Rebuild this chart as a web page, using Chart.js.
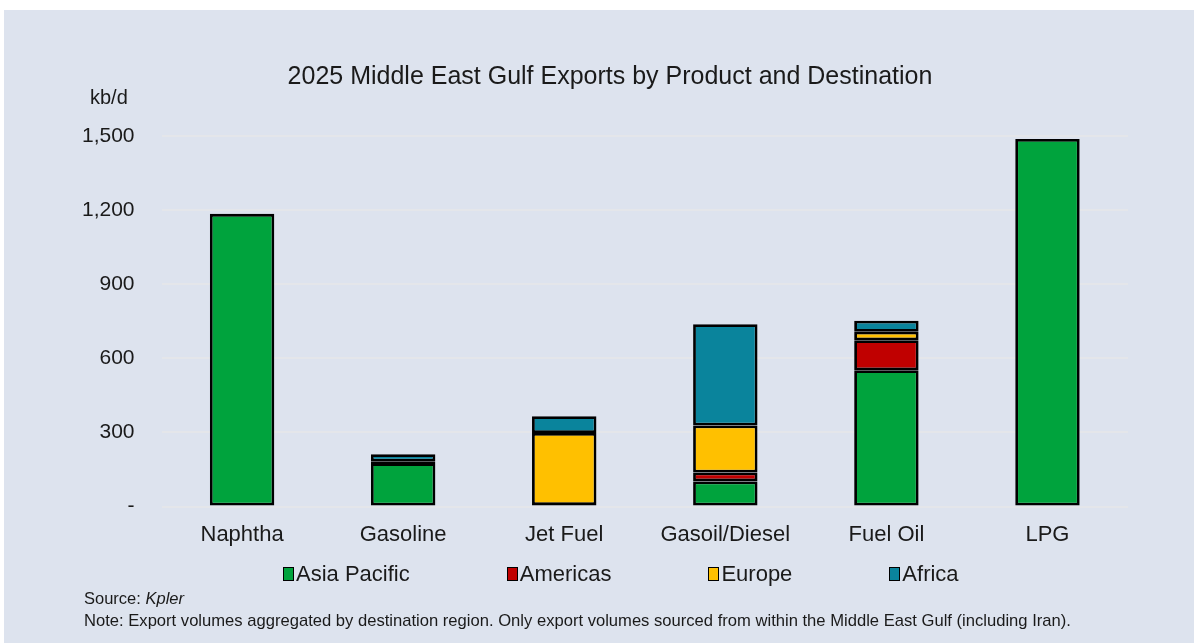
<!DOCTYPE html>
<html>
<head>
<meta charset="utf-8">
<script src="https://cdn.jsdelivr.net/npm/chart.js@4"></script>
<style>
  body { margin: 0; background: #fff; font-family: "Liberation Sans", Arial, sans-serif; }
  #panel { position: absolute; left: 4px; top: 10px; right: 0; bottom: 0; background: #dde3ee; }
  #wrap { position: absolute; left: 0; top: 0; width: 1194px; height: 643px; }
  .txt { position: absolute; color: #1a1a1a; white-space: nowrap; }
  #title { left: 0; width: 1220px; top: 61px; text-align: center; font-size: 25px; }
  #unit { left: 90px; top: 86px; font-size: 20px; }
  #legend { left: 283px; top: 561px; display: flex; gap: 97px; font-size: 22px; }
  #legend span.item { display: flex; align-items: center; }
  #legend span.box { width: 9px; height: 12px; border: 1.5px solid #000; margin-right: 2px; }
  #source { left: 84px; top: 589px; font-size: 16.5px; }
  #note { left: 84px; top: 611px; font-size: 16.6px; }
</style>
</head>
<body>
<div id="panel"></div>
<div id="wrap"><canvas id="chart" width="1194" height="643"></canvas></div>
<div class="txt" id="title">2025 Middle East Gulf Exports by Product and Destination</div>
<div class="txt" id="unit">kb/d</div>
<div class="txt" id="legend"></div>
<div class="txt" id="source">Source: <i>Kpler</i></div>
<div class="txt" id="note">Note: Export volumes aggregated by destination region. Only export volumes sourced from within the Middle East Gulf (including Iran).</div>
<script>
const products = ["Naphtha", "Gasoline", "Jet Fuel", "Gasoil/Diesel", "Fuel Oil", "LPG"];
const asiaPacific = [1185, 176, 6, 102, 552, 1488];
const americas = [null, 6, null, 36, 121, null];
const europe = [null, null, 292, 190, 35, null];
const africa = [null, 30, 68, 410, 44, null];
const yTicks = [0, 300, 600, 900, 1200, 1500];

const FONT = "Liberation Sans";
const INK = "#1a1a1a";

function series(label, data, color) {
  return {
    label: label,
    data: data,
    backgroundColor: color,
    borderColor: "#000",
    borderWidth: 2.8,
    borderSkipped: false,
    categoryPercentage: 1,
    barPercentage: 0.4,
  };
}

const ctx = document.getElementById("chart").getContext("2d");
const chart = new Chart(ctx, {
  type: "bar",
  data: {
    labels: products,
    datasets: [
      series("Asia Pacific", asiaPacific, "#00a33d"),
      series("Americas", americas, "#c00000"),
      series("Europe", europe, "#ffc000"),
      series("Africa", africa, "#0a849c"),
    ],
  },
  options: {
    responsive: false,
    animation: false,
    layout: { padding: { left: 55, right: 66, top: 136, bottom: 88 } },
    plugins: {
      legend: { display: false },
      tooltip: { enabled: false },
    },
    scales: {
      x: {
        stacked: true,
        grid: { display: false },
        border: { display: false },
        ticks: { color: INK, font: { family: FONT, size: 22 }, padding: 7 },
      },
      y: {
        stacked: true,
        min: 0,
        max: 1500,
        afterBuildTicks: (axis) => {
          axis.ticks = yTicks.map((v) => ({ value: v }));
        },
        grid: { color: "#e4e6ea", lineWidth: 2, drawTicks: false },
        border: { display: false },
        ticks: {
          color: INK,
          font: { family: FONT, size: 21 },
          padding: 27,
          callback: (value) => (value === 0 ? "-" : value.toLocaleString("en-US")),
        },
      },
    },
  },
});

// legend row under the axis, built from the datasets
const legendEl = document.getElementById("legend");
chart.data.datasets.forEach((ds) => {
  const item = document.createElement("span");
  item.className = "item";
  const box = document.createElement("span");
  box.className = "box";
  box.style.background = ds.backgroundColor;
  item.appendChild(box);
  item.appendChild(document.createTextNode(ds.label));
  legendEl.appendChild(item);
});
</script>
</body>
</html>
